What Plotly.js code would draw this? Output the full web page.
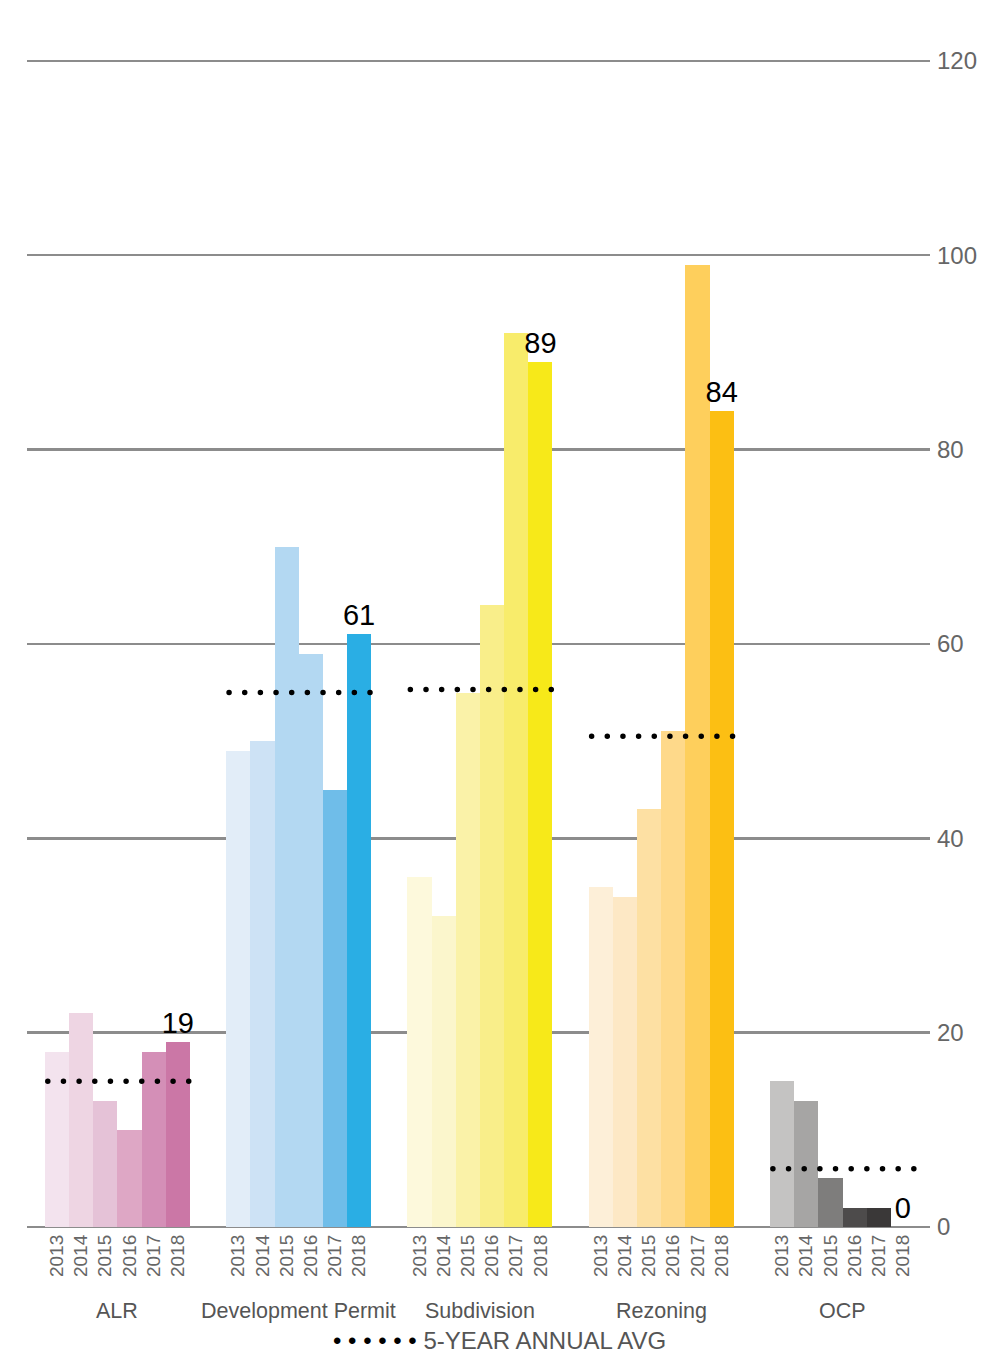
<!DOCTYPE html>
<html>
<head>
<meta charset="utf-8">
<script src="https://cdn.plot.ly/plotly-3.0.1.min.js"></script>
<style>
html,body{margin:0;padding:0;background:#fff;}
#chart{width:986px;height:1354px;}
#chart .scatterlayer .js-line{stroke-linecap:round !important;}
</style>
</head>
<body>
<div id="chart"></div>
<script>
// ---- data ----
const categories = ["ALR", "Development Permit", "Subdivision", "Rezoning", "OCP"];
const years = ["2013", "2014", "2015", "2016", "2017", "2018"];
const alrValues = [18, 22, 13, 10, 18, 19];
const devPermitValues = [49, 50, 70, 59, 45, 61];
const subdivisionValues = [36, 32, 55, 64, 92, 89];
const rezoningValues = [35, 34, 43, 51, 99, 84];
const ocpValues = [15, 13, 5, 2, 2, 0];
const fiveYearAvg = [15, 55, 55.3, 50.5, 6];
const yTicks = [0, 20, 40, 60, 80, 100, 120];
const legendLabel = "5-YEAR ANNUAL AVG";

// ---- styles ----
const palettes = [
  ["#f3e3ee", "#eed5e3", "#e5c2d7", "#dea7c5", "#d48fb7", "#cb77a6"],
  ["#e2edf8", "#cde2f5", "#b3d8f2", "#b3d8f2", "#6fbde9", "#2aaee4"],
  ["#fdf9dc", "#fbf6cc", "#faf2a8", "#f9ee8a", "#f8ec6b", "#f7e919"],
  ["#fdefd8", "#fde8c5", "#fde0a3", "#fed98a", "#fecf5c", "#fcbf13"],
  ["#c4c3c2", "#a6a5a4", "#7e7d7c", "#4d4b4b", "#3a3838", "#3a3838"]
];
const groupStep = 7.5;
const FONT = "Liberation Sans, Arial, Helvetica, sans-serif";

const seriesValues = [alrValues, devPermitValues, subdivisionValues, rezoningValues, ocpValues];

const traces = [];
const tickvals = [], ticktext = [];
const annotations = [];

seriesValues.forEach((vals, g) => {
  const xs = years.map((y, i) => g * groupStep + i);
  xs.forEach((x, i) => { tickvals.push(x); ticktext.push(years[i]); });
  traces.push({
    type: "bar",
    x: xs,
    y: vals,
    width: 1,
    marker: { color: palettes[g], line: { width: 0 } },
    text: vals.map((v, i) => i === years.length - 1 ? String(v) : ""),
    textposition: "outside",
    constraintext: "none",
    cliponaxis: false,
    textfont: { family: FONT, size: 29, color: "#000" },
    hoverinfo: "x+y",
    showlegend: false,
    name: categories[g]
  });
});

seriesValues.forEach((vals, g) => {
  traces.push({
    type: "scatter",
    mode: "lines",
    x: [g * groupStep - 0.38, g * groupStep + 5.46],
    y: [fiveYearAvg[g], fiveYearAvg[g]],
    line: { color: "#000", width: 5.5, dash: "0.01px,15.65px" },
    hoverinfo: "y",
    showlegend: false,
    name: legendLabel
  });
  annotations.push({
    x: g * groupStep + 2.5,
    y: 0,
    xref: "x",
    yref: "y",
    yanchor: "middle",
    yshift: -84,
    showarrow: false,
    text: categories[g],
    font: { family: FONT, size: 21.5, color: "#555" }
  });
});

annotations.push({
  x: 0.523,
  xref: "paper",
  y: 0,
  yref: "y",
  yanchor: "middle",
  yshift: -113,
  showarrow: false,
  text: "<span style='color:#000'>• • • • • •</span> " + legendLabel,
  font: { family: FONT, size: 24, color: "#555" }
});

const layout = {
  width: 986,
  height: 1354,
  margin: { l: 27, r: 56, t: 57, b: 127 },
  paper_bgcolor: "#fff",
  plot_bgcolor: "#fff",
  bargap: 0,
  showlegend: false,
  xaxis: {
    range: [-1.24, 36.12],
    tickmode: "array",
    tickvals: tickvals,
    ticktext: ticktext,
    tickangle: -90,
    ticks: "",
    ticklabelstandoff: 3,
    showgrid: false,
    zeroline: false,
    showline: false,
    tickfont: { family: FONT, size: 19, color: "#666" }
  },
  yaxis: {
    range: [0, 120.4],
    side: "right",
    tickmode: "array",
    tickvals: yTicks,
    ticks: "",
    ticklabelstandoff: 6,
    showgrid: true,
    gridcolor: "#8c8c8c",
    gridwidth: 2.5,
    zeroline: true,
    zerolinecolor: "#8c8c8c",
    zerolinewidth: 2.5,
    showline: false,
    tickfont: { family: FONT, size: 24, color: "#666" }
  },
  annotations: annotations,
  font: { family: FONT }
};

Plotly.newPlot("chart", traces, layout, { displayModeBar: false, staticPlot: true });
</script>
</body>
</html>
